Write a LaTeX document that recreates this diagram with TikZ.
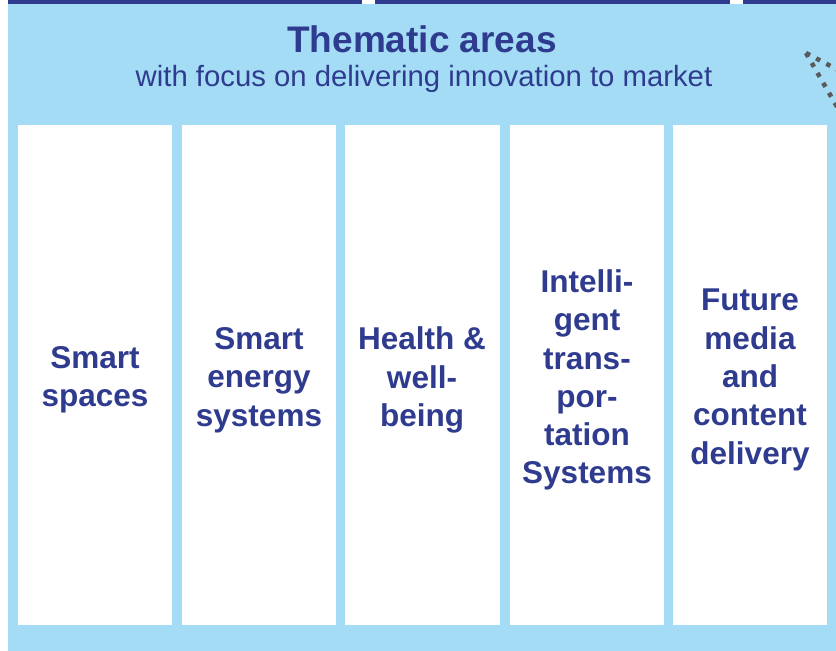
\documentclass[tikz,border=0pt]{standalone}
\usepackage{fontspec}
\setmainfont{Liberation Sans}
\definecolor{bgblue}{HTML}{A3DCF4}
\definecolor{navy}{HTML}{2E3B8E}
\definecolor{dotgrey}{HTML}{5A5A5A}
\tikzset{
  colbox/.style={fill=white, draw=none},
  coltext/.style={text=navy, font=\fontsize{31.5}{38.3}\selectfont\bfseries, align=center, inner sep=0pt},
  topbar/.style={fill=navy, draw=none},
  dotline/.style={draw=dotgrey, line width=4.5pt, dash pattern=on 4.5pt off 7pt}
}
\begin{document}
\begin{tikzpicture}[x=1pt,y=-1pt]
\useasboundingbox (0,0) rectangle (836,651);
\fill[bgblue] (8,4) rectangle (836,651);
\fill[topbar] (8,0) rectangle (362,4);
\fill[topbar] (375,0) rectangle (730,4);
\fill[topbar] (743,0) rectangle (836,4);
% dotted decoration
\coordinate (d0) at (806,53);
\coordinate (d1) at (840,71);
\coordinate (d2) at (840,112);
\draw[dotline] (d0) -- (d1);
\draw[dotline] (d0) -- (d2);
% title
\node[text=navy, font=\fontsize{37}{42}\selectfont\bfseries, inner sep=0pt] (title) at (422,39) {Thematic areas};
\node[text=navy, font=\fontsize{29.3}{34}\selectfont, inner sep=0pt] (subtitle) at (424,79) {with focus on delivering innovation to market};
% columns
\fill[colbox] (18,125) rectangle (172,625);
\fill[colbox] (182,125) rectangle (336,625);
\fill[colbox] (345,125) rectangle (500,625);
\fill[colbox] (510,125) rectangle (664,625);
\fill[colbox] (673,125) rectangle (827,625);
\node[coltext] (c1) at (95,380) {Smart\\spaces};
\node[coltext] (c2) at (259,380) {Smart\\energy\\systems};
\node[coltext] (c3) at (422,380) {Health \&\\well-\\being};
\node[coltext] (c4) at (587,380) {Intelli-\\gent\\trans-\\por-\\tation\\Systems};
\node[coltext] (c5) at (750,380) {Future\\media\\and\\content\\delivery};
\end{tikzpicture}
\end{document}
